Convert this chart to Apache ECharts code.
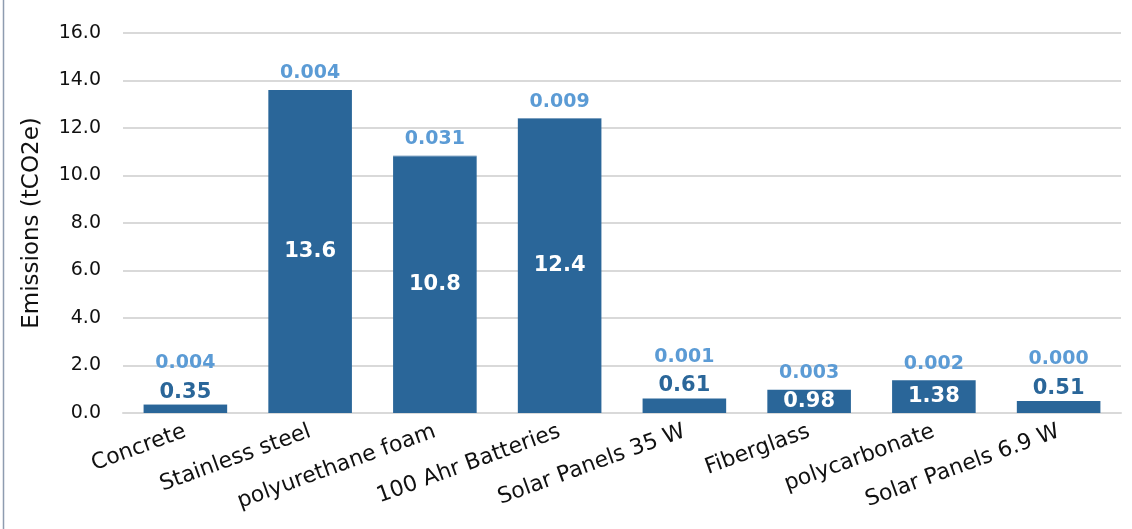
<!DOCTYPE html>
<html>
<head>
<meta charset="utf-8">
<title>Emissions by material</title>
<script src="https://cdn.jsdelivr.net/npm/echarts@6/dist/echarts.min.js"></script>
<style>
  html, body { margin: 0; padding: 0; background: #ffffff; }
  #chart { width: 1132px; height: 529px; }
</style>
</head>
<body>
<div id="chart"></div>
<script>
// Materials / components
const categories = [
  'Concrete', 'Stainless steel', 'polyurethane foam', '100 Ahr Batteries',
  'Solar Panels 35 W', 'Fiberglass', 'polycarbonate', 'Solar Panels 6.9 W'
];
// Main emissions per item (tCO2e)
const emissions = [0.35, 13.6, 10.8, 12.4, 0.61, 0.98, 1.38, 0.51];
// Secondary (very small) emissions stacked on top (tCO2e)
const minorEmissions = [0.004, 0.004, 0.031, 0.009, 0.001, 0.003, 0.002, 0.000];
// Value axis range
const yMin = 0, yMax = 16, yStep = 2;

const FONT = 'DejaVu Sans';
const BAR = '#2a6699';
const LIGHT = '#5b9bd5';
const SMALL = 0.9; // bars too short to hold their label inside

const chart = echarts.init(document.getElementById('chart'), null, { renderer: 'canvas' });

chart.setOption({
  animation: false,
  backgroundColor: '#ffffff',
  textStyle: { fontFamily: FONT },
  graphic: [{
    type: 'line',
    shape: { x1: 3.5, y1: 0, x2: 3.5, y2: 529 },
    style: { stroke: '#8e9cb0', lineWidth: 1.5 }
  }],
  grid: { left: 123, right: 11, top: 33, bottom: 116, containLabel: false },
  xAxis: {
    type: 'category',
    data: categories,
    axisLine: { show: true, lineStyle: { color: '#d9d9d9', width: 2 } },
    axisTick: { show: false },
    axisLabel: {
      interval: 0,
      rotate: 20,
      margin: 18,
      color: '#111111',
      fontFamily: FONT,
      fontSize: 22
    }
  },
  yAxis: {
    type: 'value',
    min: yMin, max: yMax, interval: yStep,
    name: 'Emissions (tCO2e)',
    nameLocation: 'middle',
    nameGap: 79,
    nameRotate: 90,
    nameTextStyle: { color: '#111111', fontFamily: FONT, fontSize: 23 },
    axisLine: { show: false },
    axisTick: { show: false },
    axisLabel: {
      margin: 22,
      color: '#111111',
      fontFamily: FONT,
      fontSize: 19,
      formatter: v => v.toFixed(1)
    },
    splitLine: { lineStyle: { color: '#d9d9d9', width: 2 } }
  },
  series: [
    {
      name: 'Emissions',
      type: 'bar',
      stack: 'total',
      barWidth: '67%',
      itemStyle: { color: BAR },
      label: {
        show: true,
        position: 'inside',
        color: '#ffffff',
        fontFamily: FONT,
        fontWeight: 'bold',
        fontSize: 21,
        formatter: p => String(p.value)
      },
      data: emissions.map(v => v < SMALL
        ? { value: v, label: { position: 'top', color: BAR, distance: 2 } }
        : { value: v })
    },
    {
      name: 'Minor emissions',
      type: 'bar',
      stack: 'total',
      barWidth: '67%',
      itemStyle: { color: BAR },
      label: {
        show: true,
        position: 'top',
        color: LIGHT,
        fontFamily: FONT,
        fontWeight: 'bold',
        fontSize: 19,
        formatter: p => Number(p.value).toFixed(3)
      },
      data: minorEmissions.map((v, i) => ({
        value: v,
        label: { distance: emissions[i] < SMALL ? 32 : 7 }
      }))
    }
  ]
});
</script>
</body>
</html>
